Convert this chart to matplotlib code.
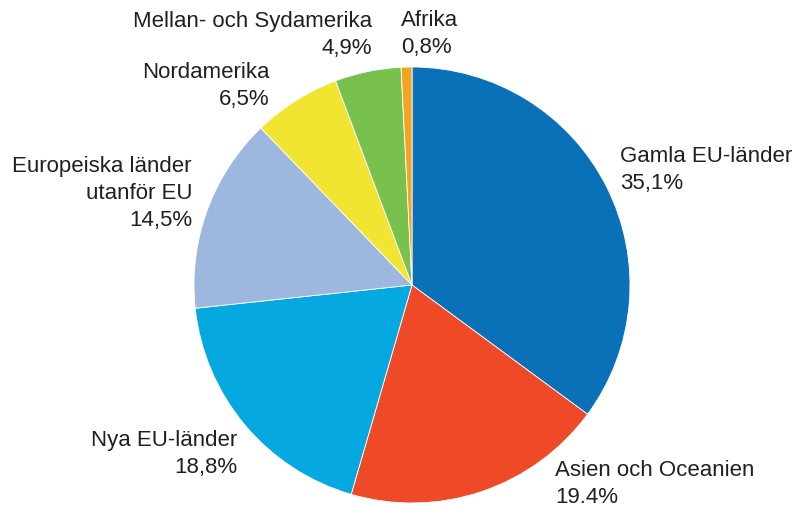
import matplotlib
matplotlib.use("Agg")
import matplotlib.pyplot as plt

plt.rcParams['font.family'] = ['Liberation Sans', 'DejaVu Sans']

# Data
regioner = ['Gamla EU-länder', 'Asien och Oceanien', 'Nya EU-länder',
            'Europeiska länder\nutanför EU', 'Nordamerika',
            'Mellan- och Sydamerika', 'Afrika']
andelar = [35.1, 19.4, 18.8, 14.5, 6.5, 4.9, 0.8]
etiketter_procent = ['35,1%', '19.4%', '18,8%', '14,5%', '6,5%', '4,9%', '0,8%']
farger = ['#0a70b8', '#ee4a27', '#06a8e0', '#9eb7de', '#f2e532', '#79c14d', '#f3a521']

fig = plt.figure(figsize=(7.96, 5.07), dpi=100)
W, H = 796, 507
cx, cy, r = 412, 285, 218
ax = fig.add_axes([(cx - r) / W, (H - cy - r) / H, 2 * r / W, 2 * r / H])

ax.pie(andelar, colors=farger, startangle=90, counterclock=False,
       wedgeprops=dict(edgecolor='white', linewidth=0.6), radius=1)
ax.set_xlim(-1, 1)
ax.set_ylim(-1, 1)
ax.set_aspect('equal')
ax.axis('off')

# etikettpositioner i pixlar (x, y for textens overkant, justering)
pos = [
    (620, 146, 'left'),
    (555, 460, 'left'),
    (237, 430, 'right'),
    (192, 156, 'right'),
    (270, 62, 'right'),
    (372, 11, 'right'),
    (401, 10, 'left'),
]
for namn, pct, (px, py, ha) in zip(regioner, etiketter_procent, pos):
    fig.text(px / W, 1 - py / H, f"{namn}\n{pct}", ha=ha, va='top',
             fontsize=16, color='#231f20', linespacing=1.38, multialignment=ha)

fig.savefig('out.png', dpi=100)
